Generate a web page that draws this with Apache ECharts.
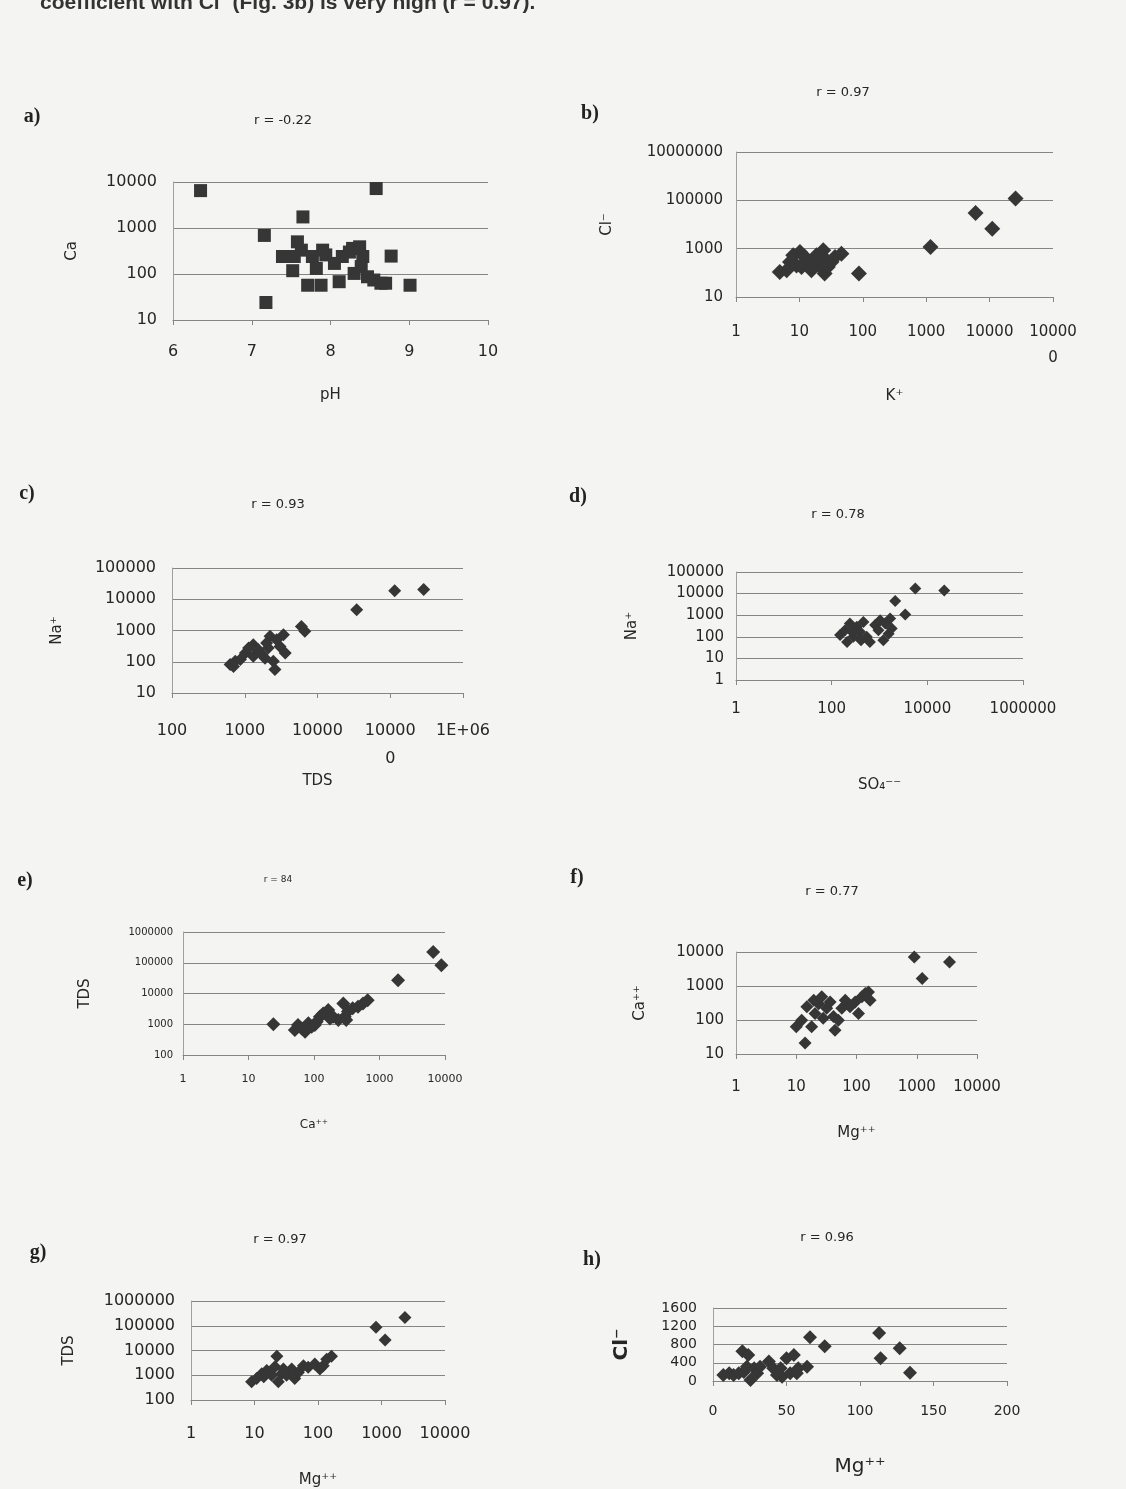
<!DOCTYPE html>
<html><head><meta charset="utf-8">
<script src="https://cdn.jsdelivr.net/npm/echarts@6/dist/echarts.min.js"></script>
<style>html,body{margin:0;padding:0;background:#f4f4f2}#c{width:1126px;height:1489px}</style>
</head><body><div id="c"></div><script>
// a) Ca vs pH
const aPH = [6.35, 8.58, 7.65, 7.16, 7.18, 8.77, 9.01, 7.39, 7.52, 7.58, 7.63, 7.71, 7.88, 7.77, 7.82, 7.90, 7.94, 8.05, 8.11, 8.15, 8.24, 8.28, 8.30, 8.41, 8.39, 8.47, 8.55, 8.64, 8.70, 7.54, 8.37];
const aCa = [6500, 7200, 1740, 690, 24, 245, 57, 240, 118, 500, 330, 57, 57, 240, 132, 330, 260, 170, 68, 240, 300, 360, 103, 240, 145, 87, 74, 63, 63, 240, 390];
// b) Cl vs K
const bK  = [25700, 6000, 11000, 1170, 87, 4.9, 7.1, 8, 10.2, 10.8, 13, 15.5, 18.6, 21, 23.8, 25, 26.8, 32, 36.4, 46, 6.3, 9, 16.5, 12.2, 28];
const bCl = [118000, 30000, 6700, 1180, 93, 108, 280, 530, 720, 175, 330, 128, 530, 200, 850, 93, 330, 280, 450, 620, 128, 200, 280, 450, 175];
// c) Na vs TDS
const cTDS = [115000, 288000, 34600, 6000, 6700, 630, 740, 870, 1020, 1130, 1310, 1540, 1720, 1900, 2100, 2230, 2470, 2600, 2750, 3050, 3400, 3600, 1310, 2000, 700];
const cNa  = [18600, 20400, 4650, 1350, 940, 81, 103, 117, 190, 275, 350, 240, 170, 130, 275, 650, 103, 56, 510, 310, 730, 190, 150, 400, 70];
// d) Na vs SO4
const dSO4 = [5600, 22600, 2130, 3450, 1670, 150, 190, 210, 240, 285, 335, 390, 460, 540, 630, 810, 950, 1030, 1200, 1320, 1550, 1800, 265, 410];
const dNa  = [17000, 14000, 4600, 1070, 700, 120, 200, 58, 410, 100, 290, 170, 490, 100, 58, 350, 200, 590, 70, 410, 140, 240, 170, 70];
// e) TDS vs Ca
const eCa  = [6600, 8800, 1920, 24, 51, 57, 65, 73, 82, 92, 110, 123, 138, 165, 195, 235, 280, 295, 330, 390, 470, 560, 660, 175, 310, 103];
const eTDS = [224000, 83000, 27000, 1000, 650, 940, 730, 570, 1070, 830, 1200, 1750, 2240, 2900, 1750, 1370, 4700, 1750, 2600, 3300, 3700, 4700, 6000, 1550, 1370, 940];
// f) Ca vs Mg
const fMg = [910, 3500, 1230, 14, 10, 12.3, 15, 18, 20.5, 23.5, 28, 32, 36.5, 41.5, 44, 50, 57, 65, 78, 95, 108, 123, 140, 158, 168, 19.5, 26.5];
const fCa = [7100, 5100, 1660, 21, 63, 99, 245, 63, 155, 300, 113, 220, 340, 127, 50, 99, 220, 380, 245, 340, 155, 480, 600, 670, 380, 380, 480];
// g) TDS vs Mg
const gMg  = [2340, 820, 1140, 9, 10.8, 13, 15.6, 18.6, 21, 22.5, 23.7, 26.8, 32, 38.5, 43, 49, 59, 70, 89, 107, 121, 137, 163, 14, 28.5];
const gTDS = [213000, 87000, 26500, 550, 740, 1150, 1550, 1000, 2200, 5900, 550, 1150, 1000, 1800, 740, 1300, 2400, 2100, 2850, 1800, 2400, 4400, 5900, 870, 1800];
// h) Cl vs Mg (linear)
const hMg = [66, 76, 113, 114, 127, 134, 7, 11, 14, 17.5, 20, 21, 23, 24, 25.5, 28, 30, 38, 41, 43.5, 47, 50, 52.5, 55, 58, 64, 32, 46, 57];
const hCl = [960, 760, 1050, 500, 720, 180, 130, 170, 130, 170, 650, 200, 310, 570, 20, 280, 170, 430, 280, 130, 95, 500, 170, 570, 280, 310, 310, 280, 170];

const titles = ['r = -0.22', 'r = 0.97', 'r = 0.93', 'r = 0.78', 'r = 84', 'r = 0.77', 'r = 0.97', 'r = 0.96'];
const letters = ['a)', 'b)', 'c)', 'd)', 'e)', 'f)', 'g)', 'h)'];

const FONT = 'DejaVu Sans';
const TXT = '#262626';
const LINE = '#858585';
const MARK = '#363636';

function zip(x, y) { return x.map((v, i) => [v, y[i]]); }
function plain(v) { return String(Math.round(v)); }

const grids = [
  {left: 173, top: 182, width: 315, height: 138},
  {left: 736, top: 152, width: 317, height: 145},
  {left: 172, top: 568, width: 291, height: 125},
  {left: 736, top: 572, width: 287, height: 108},
  {left: 183, top: 932, width: 262, height: 123},
  {left: 736, top: 952, width: 241, height: 102},
  {left: 191, top: 1301, width: 254, height: 103},
  {left: 713, top: 1308, width: 294, height: 73}
];

function xAx(i, o) {
  return Object.assign({
    gridIndex: i, type: 'log', logBase: 10,
    axisLine: {show: true, onZero: false, lineStyle: {color: LINE, width: 1}},
    axisTick: {show: true, length: 5, lineStyle: {color: LINE}},
    splitLine: {show: false}, minorTick: {show: false},
    nameLocation: 'middle',
    nameTextStyle: {fontFamily: FONT, fontSize: 15, color: TXT}
  }, o);
}
function yAx(i, o) {
  return Object.assign({
    gridIndex: i, type: 'log', logBase: 10,
    axisLine: {show: true, onZero: false, lineStyle: {color: '#a0a0a0', width: 1}},
    axisTick: {show: false},
    splitLine: {show: true, lineStyle: {color: LINE, width: 1}},
    nameLocation: 'middle',
    nameTextStyle: {fontFamily: FONT, fontSize: 15, color: TXT}
  }, o);
}
function lab(size, margin, fmt, lh) {
  return {fontFamily: FONT, fontSize: size, color: TXT, margin: margin, formatter: fmt || plain,
          lineHeight: lh || size, hideOverlap: false, showMinLabel: true, showMaxLabel: true, interval: 0};
}

const xAxis = [
  xAx(0, {type: 'value', min: 6, max: 10, interval: 1, axisLabel: lab(16, 24), name: 'pH', nameGap: 68}),
  xAx(1, {min: 1, max: 100000, interval: 1, axisLabel: lab(15, 22, v => { const r = Math.round(v); return r === 100000 ? '10000\n0' : String(r); }, 26), name: 'K⁺', nameGap: 92}),
  xAx(2, {min: 100, max: 1000000, interval: 1, axisLabel: lab(16, 24, v => { const r = Math.round(v); return r === 100000 ? '10000\n0' : (r === 1000000 ? '1E+06' : String(r)); }, 28), name: 'TDS', nameGap: 70}),
  xAx(3, {min: 1, max: 1000000, interval: 2, axisLabel: lab(15, 22), name: 'SO₄⁻⁻', nameGap: 98}),
  xAx(4, {min: 1, max: 10000, interval: 1, axisLabel: lab(11, 19), name: 'Ca⁺⁺', nameGap: 64, nameTextStyle: {fontFamily: FONT, fontSize: 12, color: TXT}}),
  xAx(5, {min: 1, max: 10000, interval: 1, axisLabel: lab(15, 26), name: 'Mg⁺⁺', nameGap: 72}),
  xAx(6, {min: 1, max: 10000, interval: 1, axisLabel: lab(16, 26), name: 'Mg⁺⁺', nameGap: 73}),
  xAx(7, {type: 'value', min: 0, max: 200, interval: 50, axisLabel: lab(14, 23), name: 'Mg⁺⁺', nameGap: 76, nameTextStyle: {fontFamily: FONT, fontSize: 20, color: TXT}})
];
const yAxis = [
  yAx(0, {min: 10, max: 10000, interval: 1, axisLabel: lab(16, 16), name: 'Ca', nameGap: 93}),
  yAx(1, {min: 10, max: 10000000, interval: 2, axisLabel: lab(15, 13), name: 'Cl⁻', nameGap: 121}),
  yAx(2, {min: 10, max: 100000, interval: 1, axisLabel: lab(16, 16), name: 'Na⁺', nameGap: 107}),
  yAx(3, {min: 1, max: 100000, interval: 1, axisLabel: lab(15, 12), name: 'Na⁺', nameGap: 96}),
  yAx(4, {min: 100, max: 1000000, interval: 1, axisLabel: lab(10, 10), name: 'TDS', nameGap: 90}),
  yAx(5, {min: 10, max: 10000, interval: 1, axisLabel: lab(15, 12), name: 'Ca⁺⁺', nameGap: 88}),
  yAx(6, {min: 100, max: 1000000, interval: 1, axisLabel: lab(16, 16), name: 'TDS', nameGap: 114}),
  yAx(7, {type: 'value', min: 0, max: 1600, interval: 400, axisLabel: lab(14, 16), name: 'Cl⁻', nameGap: 81, nameTextStyle: {fontFamily: FONT, fontSize: 20, fontWeight: 'bold', color: TXT}})
];

const sets = [[aPH, aCa, 'rect', 13], [bK, bCl, 'diamond', 16], [cTDS, cNa, 'diamond', 13], [dSO4, dNa, 'diamond', 12],
              [eCa, eTDS, 'diamond', 14], [fMg, fCa, 'diamond', 13], [gMg, gTDS, 'diamond', 13], [hMg, hCl, 'diamond', 14]];
const series = sets.map((s, i) => ({
  type: 'scatter', xAxisIndex: i, yAxisIndex: i, data: zip(s[0], s[1]),
  symbol: s[2], symbolSize: s[3], itemStyle: {color: MARK, opacity: 1}, silent: true, animation: false
}));

const titlePos = [[283, 121], [843, 93], [278, 505], [838, 515], [278, 880], [832, 892], [280, 1240], [827, 1238]];
const letterPos = [[32, 117], [590, 114], [27, 494], [578, 497], [25, 881], [577, 878], [38, 1253], [592, 1260]];
const graphic = [];
titles.forEach((t, i) => graphic.push({type: 'text', x: titlePos[i][0], y: titlePos[i][1], silent: true,
  style: {text: t, fill: TXT, font: (i === 4 ? '9px ' : '13px ') + '"' + FONT + '"', align: 'center', verticalAlign: 'middle', textAlign: 'center', textVerticalAlign: 'middle'}}));
letters.forEach((t, i) => graphic.push({type: 'text', x: letterPos[i][0], y: letterPos[i][1], silent: true,
  style: {text: t, fill: '#222', font: 'bold 20px "Liberation Serif"', align: 'center', verticalAlign: 'middle', textAlign: 'center', textVerticalAlign: 'middle'}}));
graphic.push({type: 'text', x: 40, y: 3, silent: true,
  style: {text: 'coefficient with Cl⁻ (Fig. 3b) is very high (r = 0.97).', fill: '#333', font: 'bold 21px "Liberation Sans Narrow", "Liberation Sans"', align: 'left', verticalAlign: 'middle', textAlign: 'left', textVerticalAlign: 'middle'}});

const chart = echarts.init(document.getElementById('c'));
chart.setOption({
  backgroundColor: '#f4f4f2',
  animation: false,
  grid: grids.map(g => Object.assign({containLabel: false}, g)),
  xAxis: xAxis, yAxis: yAxis, series: series, graphic: graphic
});
</script></body></html>
